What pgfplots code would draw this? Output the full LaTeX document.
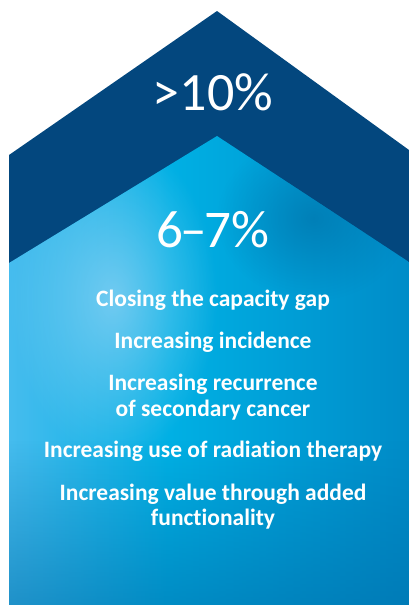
\documentclass[border=0pt]{standalone}
\usepackage{pgfplots}
\pgfplotsset{compat=1.18}
\usepackage{fontspec}
\setmainfont{Carlito}[Ligatures={NoCommon}]
\usetikzlibrary{fadings}
\definecolor{navy}{RGB}{3,71,126}
\definecolor{lb}{RGB}{150,212,245}
\definecolor{c1}{RGB}{70,188,238}
\definecolor{cy}{RGB}{0,176,228}
\definecolor{mb}{RGB}{0,158,214}
\definecolor{db}{RGB}{0,140,200}
\definecolor{bot}{RGB}{0,110,170}
\definecolor{ridge}{RGB}{0,110,165}
\pgfdeclarehorizontalshading{inner}{100bp}{color(0bp)=(c1); color(25bp)=(c1); color(45bp)=(cy); color(60bp)=(mb); color(75bp)=(db); color(100bp)=(db)}
\tikzfading[name=softspot, inner color=transparent!0, outer color=transparent!100]
\begin{document}
\begin{tikzpicture}
\begin{axis}[
  scale only axis, width=409pt, height=605pt,
  xmin=0, xmax=409, ymin=0, ymax=605, y dir=reverse,
  hide axis, clip=true]
\addplot[draw=none, fill=white] coordinates {(0,0) (409,0) (409,605) (0,605)} -- cycle;
\addplot[draw=none, fill=navy] coordinates {(9,605) (9,155) (217,11) (409,150) (409,605)} -- cycle;
\addplot[draw=none, shading=inner] coordinates {(9,605) (9,263) (217,136) (409,262) (409,605)} -- cycle;
\addplot[draw=none, fill=lb, fill opacity=0.7, path fading=softspot] coordinates {(9,263) (217,136) (217,460) (9,460)} -- cycle;
\addplot[draw=none, fill=ridge, fill opacity=0.6, path fading=softspot] coordinates {(217,136) (409,262) (409,300) (217,300)} -- cycle;
\addplot[draw=none, fill=bot, fill opacity=0.55, path fading=north] coordinates {(9,605) (9,440) (409,440) (409,605)} -- cycle;
\node[white, anchor=base, font=\fontsize{54}{54}\selectfont] at (axis cs:213,110) {>10\%};
\node[white, anchor=base, font=\fontsize{53}{53}\selectfont] at (axis cs:213,247) {6\kern-3pt–\kern-3pt7\%};
\begin{scope}[every node/.style={white, anchor=base, font=\fontsize{23.5}{23.5}\selectfont\bfseries}]
\node at (axis cs:213,306) {Closing the capacity gap};
\node at (axis cs:213,348) {Increasing incidence};
\node at (axis cs:213,390) {Increasing recurrence};
\node at (axis cs:213,416) {of secondary cancer};
\node at (axis cs:213,457) {Increasing use of radiation therapy};
\node at (axis cs:213,500) {Increasing value through added};
\node at (axis cs:213,525) {functionality};
\end{scope}
\end{axis}
\end{tikzpicture}
\end{document}
